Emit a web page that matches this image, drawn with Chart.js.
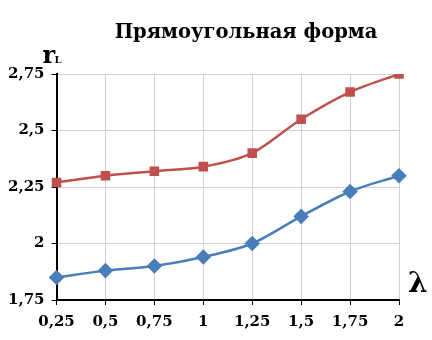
<!DOCTYPE html>
<html>
<head>
<meta charset="utf-8">
<script src="https://cdn.jsdelivr.net/npm/chart.js@4"></script>
<style>
  html, body { margin: 0; padding: 0; background: #fff; }
  #wrap { width: 432px; height: 340px; }
</style>
</head>
<body>
<div id="wrap"><canvas id="myChart"></canvas></div>
<script>
var lambdas = ["0,25", "0,5", "0,75", "1", "1,25", "1,5", "1,75", "2"];
var redSeries = [2.27, 2.30, 2.32, 2.34, 2.40, 2.55, 2.67, 2.75];
var blueSeries = [1.85, 1.88, 1.90, 1.94, 2.00, 2.12, 2.23, 2.30];
var yMin = 1.75, yMax = 2.75, yStep = 0.25;
var chartTitle = 'Прямоугольная форма';

var serif = "'DejaVu Serif', 'Liberation Serif', serif";

// заголовок и подписи осей: rL сверху слева, λ справа
var axisLabels = {
    id: 'axisLabels',
    afterDraw: function (chart) {
        var c = chart.ctx;
        var a = chart.chartArea;
        c.save();
        c.fillStyle = '#000';
        c.textBaseline = 'alphabetic';
        c.textAlign = 'center';
        c.font = "bold 19.5px " + serif;
        c.fillText(chartTitle, 246, 38);
        c.textAlign = 'left';
        c.font = "bold 24px " + serif;
        c.fillText('r', a.left - 14, a.top - 11);
        c.font = "bold 10px " + serif;
        c.fillText('L', a.left - 2, a.top - 11);
        c.font = "bold 28px " + serif;
        c.fillText('λ', a.right + 9, a.bottom - 8);
        c.restore();
    }
};

var ctx = document.getElementById("myChart");

var myChart = new Chart(ctx, {
    type: 'line',
    data: {
        labels: lambdas,
        datasets: [{
            data: redSeries,
            borderColor: '#C0504D',
            backgroundColor: '#C0504D',
            borderWidth: 2.5,
            pointStyle: 'rect',
            pointRadius: 5,
            tension: 0.3
        }, {
            data: blueSeries,
            borderColor: '#4A7EBB',
            backgroundColor: '#4A7EBB',
            borderWidth: 2.5,
            pointStyle: 'rectRot',
            pointRadius: 6,
            tension: 0.3
        }]
    },
    options: {
        responsive: true,
        maintainAspectRatio: false,
        animation: false,
        layout: { padding: { top: 74, right: 33, left: 1, bottom: 1 } },
        plugins: {
            legend: { display: false },
            tooltip: { enabled: false },
            title: { display: false }
        },
        scales: {
            x: {
                offset: false,
                grid: { color: '#d0d0d0', tickColor: '#000', tickLength: 5, lineWidth: 1 },
                border: { color: '#000', width: 2 },
                ticks: {
                    color: '#000',
                    font: { family: serif, size: 15, weight: 'bold' },
                    padding: 8,
                    maxRotation: 0,
                    autoSkip: false
                }
            },
            y: {
                min: yMin,
                max: yMax,
                grid: { color: '#d0d0d0', tickColor: '#000', tickLength: 5, lineWidth: 1 },
                border: { color: '#000', width: 2 },
                ticks: {
                    stepSize: yStep,
                    color: '#000',
                    font: { family: serif, size: 15, weight: 'bold' },
                    padding: 7,
                    callback: function (v) { return String(v).replace('.', ','); }
                }
            }
        }
    },
    plugins: [axisLabels]
});
</script>
</body>
</html>
